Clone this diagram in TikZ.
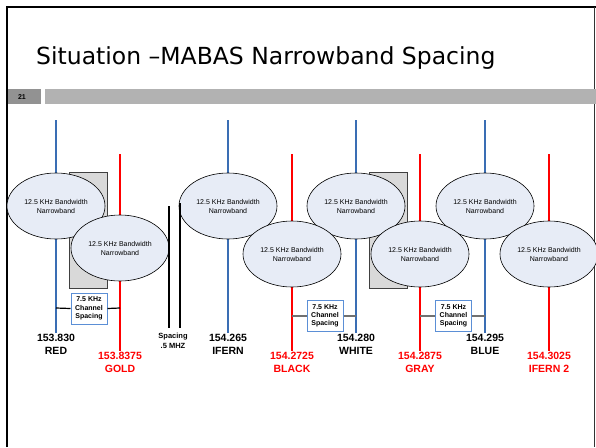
\documentclass[tikz,border=0pt]{standalone}
\usepackage{fontspec}
\setmainfont{Liberation Sans}
\newfontfamily\titlefont{DejaVu Sans}
\usetikzlibrary{shapes.geometric}
\definecolor{lblue}{RGB}{58,110,180}
\definecolor{lred}{RGB}{255,0,0}
\definecolor{efill}{RGB}{231,236,246}
\definecolor{rfill}{RGB}{217,217,217}
\definecolor{rbord}{RGB}{64,64,64}
\definecolor{bbord}{RGB}{91,143,214}
\definecolor{numgray}{RGB}{146,146,146}
\definecolor{bargray}{RGB}{178,178,178}
\definecolor{conngray}{RGB}{112,112,112}
\begin{document}
\begin{tikzpicture}[x=1pt,y=-1pt,
  band/.style={ellipse, draw=black, fill=efill, minimum width=98pt, minimum height=66pt,
    inner sep=0pt, align=center, line width=0.6pt, font=\fontsize{7}{9}\selectfont},
  grayrect/.style={draw=rbord, fill=rfill, line width=0.8pt, minimum width=38pt,
    minimum height=116pt, inner sep=0pt},
  blueline/.style={draw=lblue, line width=1.5pt},
  redline/.style={draw=lred, line width=1.5pt},
  spline/.style={draw=black, line width=1.5pt},
  chbox/.style={draw=bbord, fill=white, line width=1pt, minimum width=36pt, minimum height=31pt,
    inner sep=0pt, align=center, font=\bfseries\fontsize{7}{8.3}\selectfont},
  conn/.style={draw=conngray, line width=1.2pt},
  lblk/.style={align=center, inner sep=0pt, font=\bfseries\fontsize{10.5}{13}\selectfont},
  lredt/.style={lblk, text=lred},
  splab/.style={align=center, inner sep=0pt, font=\bfseries\fontsize{7.5}{9.5}\selectfont}
]
\useasboundingbox (0,0) rectangle (596,447);
\fill[white] (0,0) rectangle (596,447);
% slide frame
\draw[line width=2pt] (7,447) -- (7,7) -- (596,7);
\draw[line width=0.8pt, draw=black!80] (594.6,7) -- (594.6,447);
% title
\node[anchor=base west, inner sep=0pt] (title) at (36,64)
  {\titlefont\fontsize{23.5}{28}\selectfont Situation –MABAS Narrowband Spacing};
% slide number bar
\fill[numgray] (8,89) rectangle (41,104);
\fill[bargray] (45,89) rectangle (596,104);
\node[inner sep=0pt, font=\bfseries\fontsize{7}{8}\selectfont] (num) at (22,96.8) {21};

% gray rectangles
\node[grayrect] (g1) at (88,230) {};
\node[grayrect] (g2) at (388.5,230) {};

% frequency lines
\coordinate (t1) at (56,120);  \coordinate (b1) at (56,333);
\coordinate (t2) at (120,154); \coordinate (b2) at (120,351);
\coordinate (t3) at (228,120); \coordinate (b3) at (228,333);
\coordinate (t4) at (292,154); \coordinate (b4) at (292,351);
\coordinate (t5) at (356,120); \coordinate (b5) at (356,333);
\coordinate (t6) at (420,154); \coordinate (b6) at (420,351);
\coordinate (t7) at (485,120); \coordinate (b7) at (485,333);
\coordinate (t8) at (549,154); \coordinate (b8) at (549,351);
\draw[blueline] (t1) -- (b1);
\draw[redline]  (t2) -- (b2);
\draw[blueline] (t3) -- (b3);
\draw[redline]  (t4) -- (b4);
\draw[blueline] (t5) -- (b5);
\draw[redline]  (t6) -- (b6);
\draw[blueline] (t7) -- (b7);
\draw[redline]  (t8) -- (b8);

% upper ellipses
\node[band] (e1) at (56,206) {12.5 KHz Bandwidth\\Narrowband};
\node[band] (e3) at (228,206) {12.5 KHz Bandwidth\\Narrowband};
\node[band] (e5) at (356,206) {12.5 KHz Bandwidth\\Narrowband};
\node[band] (e7) at (485,206) {12.5 KHz Bandwidth\\Narrowband};
% lower ellipses
\node[band] (e2) at (120,248) {12.5 KHz Bandwidth\\Narrowband};
\node[band] (e4) at (292,254) {12.5 KHz Bandwidth\\Narrowband};
\node[band] (e6) at (420,254) {12.5 KHz Bandwidth\\Narrowband};
\node[band] (e8) at (549,254) {12.5 KHz Bandwidth\\Narrowband};

% spacing lines
\coordinate (s1t) at (169,206); \coordinate (s1b) at (169,328);
\coordinate (s2t) at (180,203); \coordinate (s2b) at (180,328);
\draw[spline] (s1t) -- (s1b);
\draw[spline] (s2t) -- (s2b);
\node[splab] (sp) at (173,341) {Spacing\\.5 MHZ};

% channel spacing boxes
\coordinate (h1a) at (56,308);  \coordinate (h1b) at (120,308);
\coordinate (h2a) at (292,316); \coordinate (h2b) at (356,316);
\coordinate (h3a) at (420,316); \coordinate (h3b) at (485,316);
\node[chbox] (c1) at (89,308.5) {7.5 KHz\\Channel\\Spacing};
\node[chbox] (c2) at (325,316) {7.5 KHz\\Channel\\Spacing};
\node[chbox] (c3) at (453.5,316) {7.5 KHz\\Channel\\Spacing};
\draw[conn, draw=black] (h1a) -- (c1.west);
\draw[conn, draw=black] (c1.east) -- (h1b);
\draw[conn] (h2a) -- (c2.west);
\draw[conn] (c2.east) -- (h2b);
\draw[conn] (h3a) -- (c3.west);
\draw[conn] (c3.east) -- (h3b);

% frequency labels
\node[lblk]  (l1) at (56,344.5)  {153.830\\RED};
\node[lredt] (l2) at (120,362)   {153.8375\\GOLD};
\node[lblk]  (l3) at (228,344.5) {154.265\\IFERN};
\node[lredt] (l4) at (292,362)   {154.2725\\BLACK};
\node[lblk]  (l5) at (356,344.5) {154.280\\WHITE};
\node[lredt] (l6) at (420,362)   {154.2875\\GRAY};
\node[lblk]  (l7) at (485,344.5) {154.295\\BLUE};
\node[lredt] (l8) at (549,362)   {154.3025\\IFERN 2};
\end{tikzpicture}
\end{document}
